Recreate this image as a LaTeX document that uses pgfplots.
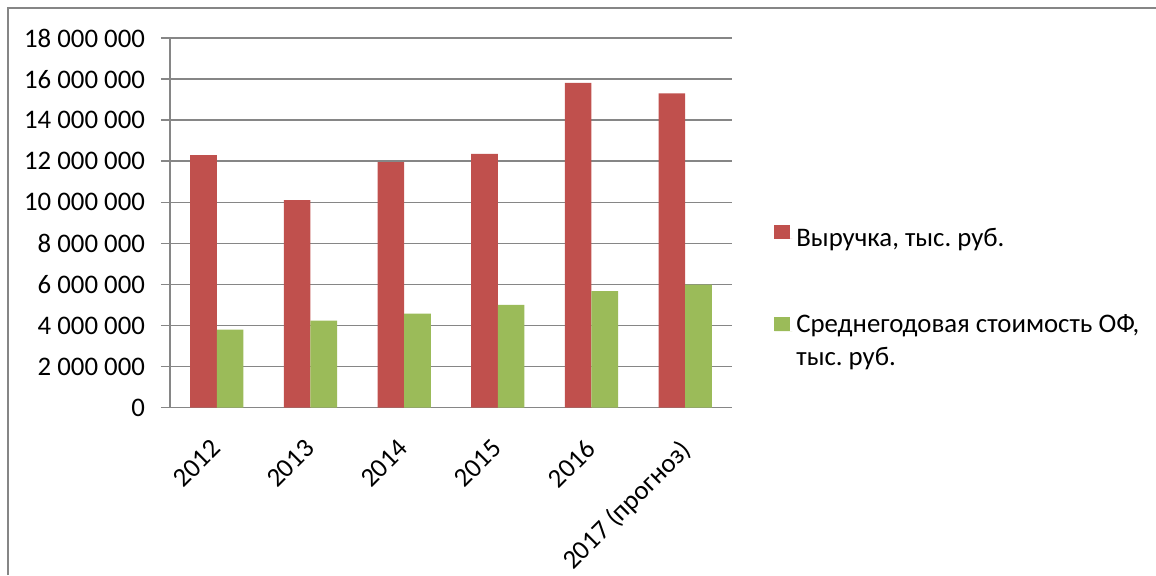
\documentclass[border=0pt]{standalone}
\usepackage{fontspec}
\setmainfont{Carlito}
\usepackage{pgfplots}
\pgfplotsset{compat=1.18}
\definecolor{cred}{HTML}{C0504D}
\definecolor{cgreen}{HTML}{9BBB59}
\definecolor{cgrid}{HTML}{868686}
\frenchspacing
\begin{document}
\frenchspacing
\begin{tikzpicture}
\path[use as bounding box] (0,0) rectangle (578pt,287.5pt);
\draw[cgrid, line width=0.7pt] (4pt,0pt) -- (4pt,283.5pt) -- (578pt,283.5pt);
\begin{axis}[
  at={(85pt,83.75pt)}, anchor=south west, scale only axis,
  width=281pt, height=184.75pt,
  xmin=-0.5, xmax=5.5, ymin=0, ymax=18000000,
  ytick distance=2000000,
  scaled y ticks=false,
  axis x line*=bottom, axis y line*=left,
  axis line style={cgrid, line width=0.7pt},
  ymajorgrids, grid style={cgrid, line width=0.7pt},
  tick style={cgrid, line width=0.7pt},
  tick align=outside,
  major tick length=4.5pt, minor tick length=5pt,
  xtick={0,1,2,3,4,5},
  xticklabels={2012,2013,2014,2015,2016,2017 (прогноз)},
  minor xtick={-0.5,0.5,1.5,2.5,3.5,4.5,5.5},
  xtick style={draw=none},
  minor tick style={cgrid, line width=0.7pt},
  ticklabel style={font=\fontsize{13.4}{16}\selectfont, text=black},
  yticklabel style={xshift=-4.5pt, /pgf/number format/.cd, fixed, precision=0, 1000 sep={\ }, assume math mode=true},
  xticklabel style={xshift=-3.5pt, yshift=-10.5pt, rotate=45, anchor=north east, inner sep=0pt},
  ybar=0pt, bar width=13.3pt,
  legend style={draw=none, fill=none, at={(1.0747,0.497)}, anchor=north west, inner sep=0pt,
    font=\fontsize{13.4}{16.5}\selectfont\frenchspacing, row sep=26pt},
  legend cell align=left,
  legend image code/.code={\fill[#1] (0pt,0pt) rectangle (8pt,7pt); \path (0pt,0pt) -- (9pt,0pt);},
]
\addplot[fill=cred, draw=none] coordinates {(0,12300000) (1,10100000) (2,11950000) (3,12350000) (4,15820000) (5,15300000)};
\addplot[fill=cgreen, draw=none] coordinates {(0,3790000) (1,4230000) (2,4570000) (3,5000000) (4,5670000) (5,5990000)};
\legend{{Выручка, тыс. руб.},{\begin{tabular}{@{}l@{}}Среднегодовая стоимость ОФ,\\тыс. руб.\end{tabular}}}
\end{axis}
\end{tikzpicture}
\end{document}
